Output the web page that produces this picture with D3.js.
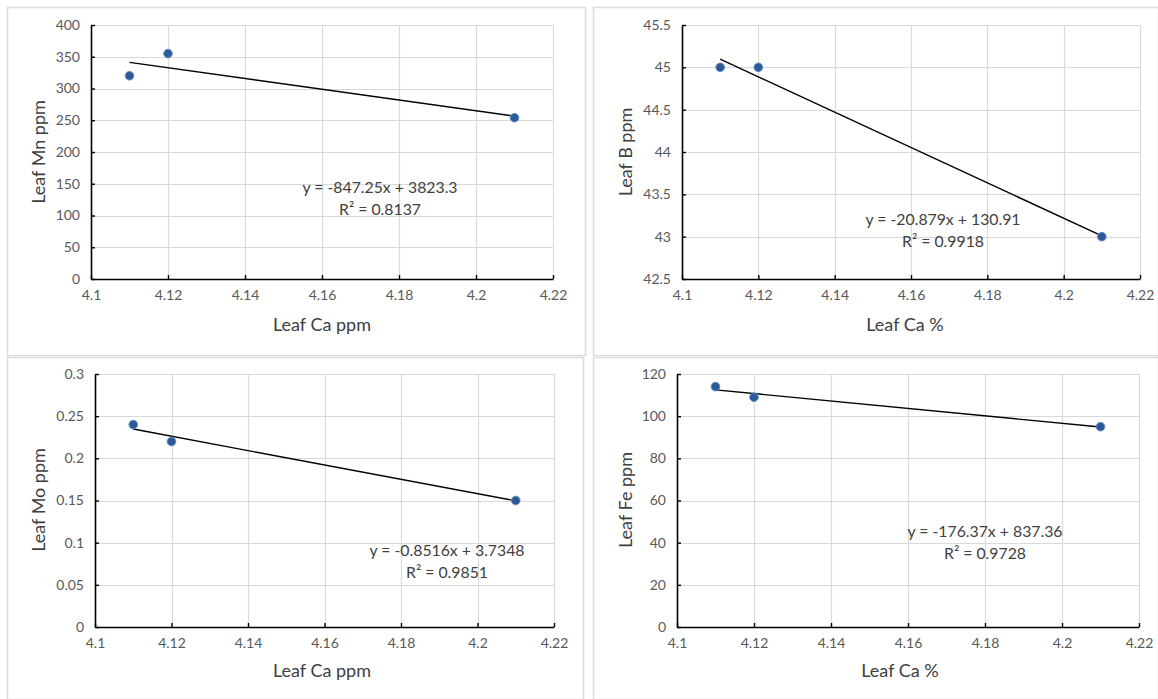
<!DOCTYPE html>
<html><head><meta charset="utf-8">
<script src="https://cdn.jsdelivr.net/npm/d3@7"></script>
<style>
html,body{margin:0;padding:0;background:#fff;}
svg{display:block;font-family:Lato,"Open Sans",sans-serif;}
</style></head>
<body>
<svg id="chart" width="1158" height="699"></svg>
<script>
// ---- data ----
const xTicks = [4.1, 4.12, 4.14, 4.16, 4.18, 4.2, 4.22];
const leafCa = [4.11, 4.12, 4.21];

const mnValues = [320, 355, 254];
const bValues  = [45, 45, 43];
const moValues = [0.24, 0.22, 0.15];
const feValues = [114, 109, 95];

const mnTicks = [0, 50, 100, 150, 200, 250, 300, 350, 400];
const bTicks  = [42.5, 43, 43.5, 44, 44.5, 45, 45.5];
const moTicks = [0, 0.05, 0.1, 0.15, 0.2, 0.25, 0.3];
const feTicks = [0, 20, 40, 60, 80, 100, 120];

const yTitles = ["Leaf Mn ppm", "Leaf B ppm", "Leaf Mo ppm", "Leaf Fe ppm"];
const xTitles = ["Leaf Ca ppm", "Leaf Ca %", "Leaf Ca ppm", "Leaf Ca %"];
const slopes = [-847.25, -20.879, -0.8516, -176.37];
const intercepts = [3823.3, 130.91, 3.7348, 837.36];
const eqTexts = ["y = -847.25x + 3823.3", "y = -20.879x + 130.91", "y = -0.8516x + 3.7348", "y = -176.37x + 837.36"];
const r2Texts = ["R² = 0.8137", "R² = 0.9918", "R² = 0.9851", "R² = 0.9728"];

// ---- layout ----
const panels = [
  {box:[7,7,578,348], plot:[91,553,25,279], vals:mnValues, ticks:mnTicks, eq:[380,189], yT:[40,152], xT:[322,326]},
  {box:[593,7,565,348], plot:[682,1140,25,279], vals:bValues, ticks:bTicks, eq:[943,221], yT:[627,152], xT:[905,326]},
  {box:[7,357,576,342], plot:[95,554,374,627], vals:moValues, ticks:moTicks, eq:[447,552], yT:[40,500], xT:[322,672]},
  {box:[593,357,565,342], plot:[677,1139,374,627], vals:feValues, ticks:feTicks, eq:[985,533], yT:[627,500], xT:[900,672]}
];

const svg = d3.select("#chart");
const fmt = d => String(+d.toFixed(4));

panels.forEach((p, i) => {
  const g = svg.append("g");
  g.append("rect").attr("x", p.box[0]+0.5).attr("y", p.box[1]+0.5)
    .attr("width", p.box[2]).attr("height", p.box[3])
    .attr("fill", "#fff").attr("stroke", "#dcdcdc").attr("stroke-width", 1.5);

  const x = d3.scaleLinear().domain([4.1, 4.22]).range([p.plot[0], p.plot[1]]);
  const y = d3.scaleLinear().domain([p.ticks[0], p.ticks[p.ticks.length-1]]).range([p.plot[3], p.plot[2]]);

  // gridlines
  g.append("g").selectAll("line").data(xTicks.slice(1)).join("line")
    .attr("x1", d => Math.round(x(d))+0.5).attr("x2", d => Math.round(x(d))+0.5)
    .attr("y1", p.plot[2]).attr("y2", p.plot[3])
    .attr("stroke", "#d9d9d9").attr("stroke-width", 1.2);
  g.append("g").selectAll("line").data(p.ticks.slice(1)).join("line")
    .attr("y1", d => Math.round(y(d))+0.5).attr("y2", d => Math.round(y(d))+0.5)
    .attr("x1", p.plot[0]).attr("x2", p.plot[1])
    .attr("stroke", "#d9d9d9").attr("stroke-width", 1.2);

  // axes
  const xa = g.append("g").attr("transform", `translate(0,${p.plot[3]})`)
    .call(d3.axisBottom(x).tickValues(xTicks).tickFormat(fmt).tickSizeInner(-4).tickSizeOuter(0).tickPadding(11));
  const ya = g.append("g").attr("transform", `translate(${p.plot[0]},0)`)
    .call(d3.axisLeft(y).tickValues(p.ticks).tickFormat(fmt).tickSizeInner(-4).tickSizeOuter(0).tickPadding(11));
  [xa, ya].forEach(a => {
    a.select(".domain").attr("stroke", "#000").attr("stroke-width", 1.6);
    a.selectAll(".tick line").attr("stroke", "#000").attr("stroke-width", 1.4);
    a.selectAll("text").attr("fill", "#595959").style("font-size", "14px").attr("font-family", "Lato, sans-serif");
  });

  // trendline
  const tl = [leafCa[0], leafCa[leafCa.length-1]].map(v => [v, slopes[i]*v + intercepts[i]]);
  g.append("line")
    .attr("x1", x(tl[0][0])).attr("y1", y(tl[0][1]))
    .attr("x2", x(tl[1][0])).attr("y2", y(tl[1][1]))
    .attr("stroke", "#000").attr("stroke-width", 1.4);

  // markers
  g.append("g").selectAll("circle").data(leafCa.map((c, k) => [c, p.vals[k]])).join("circle")
    .attr("cx", d => x(d[0])).attr("cy", d => y(d[1])).attr("r", 4.3)
    .attr("fill", "#2c5a96").attr("stroke", "#5f8bc7").attr("stroke-width", 1);

  // equation
  g.append("text").attr("x", p.eq[0]).attr("y", p.eq[1]).attr("text-anchor", "middle")
    .attr("dominant-baseline", "middle").attr("fill", "#404040").style("font-size", "15.8px").text(eqTexts[i]);
  g.append("text").attr("x", p.eq[0]).attr("y", p.eq[1]+22).attr("text-anchor", "middle")
    .attr("dominant-baseline", "middle").attr("fill", "#404040").style("font-size", "15.8px").text(r2Texts[i]);

  // axis titles
  g.append("text").attr("x", p.xT[0]).attr("y", p.xT[1]).attr("text-anchor", "middle")
    .attr("dominant-baseline", "middle").attr("fill", "#404040").style("font-size", "18px").text(xTitles[i]);
  g.append("text").attr("transform", `translate(${p.yT[0]},${p.yT[1]}) rotate(-90)`).attr("text-anchor", "middle")
    .attr("dominant-baseline", "middle").attr("fill", "#404040").style("font-size", "18px").text(yTitles[i]);
});
</script>
</body></html>
